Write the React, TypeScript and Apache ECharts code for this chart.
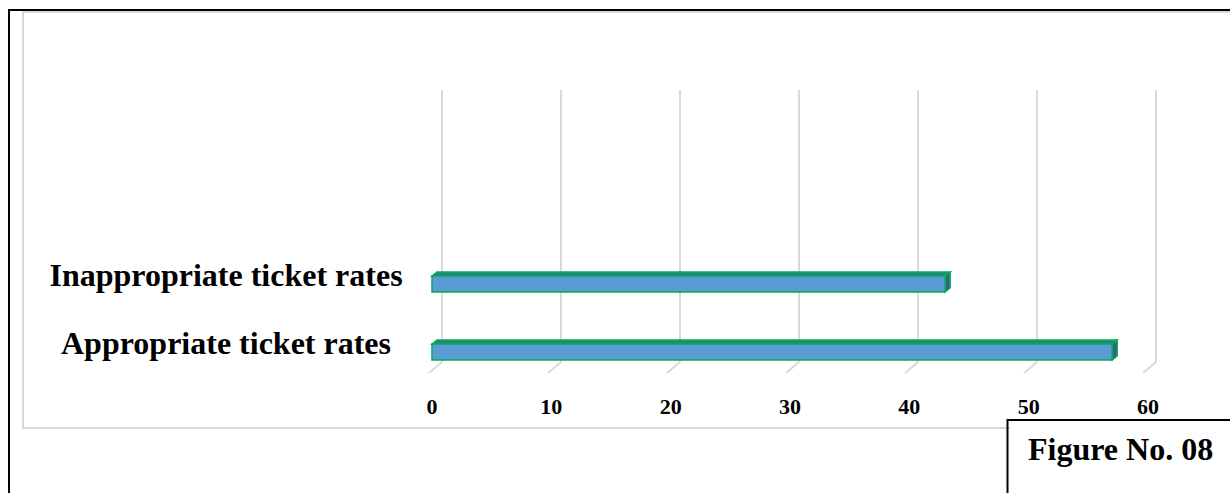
import React, { useEffect, useRef } from "react";
import * as echarts from "echarts";

const categories = ["Appropriate ticket rates", "Inappropriate ticket rates"];
const values = [57, 43];
const tickValues = [0, 10, 20, 30, 40, 50, 60];
const figureLabel = "Figure No. 08";

const FONT = '"Liberation Serif", "Times New Roman", serif';

export default function App() {
  const ref = useRef<HTMLDivElement>(null);
  useEffect(() => {
    if (!ref.current) return;
    const chart = echarts.init(ref.current, null, { renderer: "svg" });
    const option: any = {
      animation: false,
      backgroundColor: "#ffffff",
      grid: [
        { left: 442, right: 74, top: 90, bottom: 131 },
        { left: 432, right: 82, top: 241, bottom: 116 },
      ],
      xAxis: [
        {
          gridIndex: 0,
          type: "value",
          min: 0,
          max: 60,
          interval: 10,
          axisLine: { show: false },
          axisTick: { show: false },
          axisLabel: { show: false },
          splitLine: { show: true, lineStyle: { color: "#d9d9d9", width: 2 } },
        },
        {
          gridIndex: 1,
          type: "value",
          min: 0,
          max: 60,
          interval: 10,
          axisLine: { show: false },
          axisTick: { show: false },
          splitLine: { show: false },
          axisLabel: {
            color: "#000",
            fontFamily: FONT,
            fontWeight: "bold",
            fontSize: 22,
            margin: 18,
          },
        },
      ],
      yAxis: [
        {
          gridIndex: 0,
          type: "value",
          min: 0,
          max: 1,
          show: false,
        },
        {
          gridIndex: 1,
          type: "category",
          data: categories,
          axisLine: { show: false },
          axisTick: { show: false },
          splitLine: { show: false },
          axisLabel: {
            color: "#000",
            fontFamily: FONT,
            fontWeight: "bold",
            fontSize: 32,
            align: "center",
            margin: 206,
          },
        },
      ],
      series: [
        {
          type: "custom",
          xAxisIndex: 0,
          yAxisIndex: 0,
          clip: false,
          silent: true,
          data: tickValues.map((t) => [t, 0]),
          renderItem: (params: any, api: any) => {
            const p = api.coord([api.value(0), 0]);
            return {
              type: "line",
              shape: { x1: p[0], y1: p[1], x2: p[0] - 13, y2: p[1] + 11 },
              style: { stroke: "#d9d9d9", lineWidth: 2 },
            };
          },
        },
        {
          type: "custom",
          xAxisIndex: 1,
          yAxisIndex: 1,
          clip: false,
          data: values.map((v, i) => [v, i]),
          encode: { x: 0, y: 1 },
          renderItem: (params: any, api: any) => {
            const v = api.value(0);
            const c = api.value(1);
            const p0 = api.coord([0, c]);
            const p1 = api.coord([v, c]);
            const x0 = p0[0];
            const x1 = p1[0];
            const y = p0[1];
            const dx = 5;
            const dy = 4;
            const top = y + 1;
            const h = 16;
            const stroke = "#00b050";
            return {
              type: "group",
              children: [
                {
                  type: "polygon",
                  shape: {
                    points: [
                      [x0, top],
                      [x0 + dx, top - dy],
                      [x1 + dx, top - dy],
                      [x1, top],
                    ],
                  },
                  style: { fill: "#2f7f86", stroke, lineWidth: 1.5 },
                },
                {
                  type: "polygon",
                  shape: {
                    points: [
                      [x1, top],
                      [x1 + dx, top - dy],
                      [x1 + dx, top + h - dy],
                      [x1, top + h],
                    ],
                  },
                  style: { fill: "#35608c", stroke, lineWidth: 1.5 },
                },
                {
                  type: "rect",
                  shape: { x: x0, y: top, width: x1 - x0, height: h },
                  style: { fill: "#5b9bd5", stroke, lineWidth: 1.5 },
                },
              ],
            };
          },
        },
      ],
      graphic: [
        {
          type: "line",
          z: -10,
          silent: true,
          shape: { x1: 23, y1: 12, x2: 1230, y2: 12 },
          style: { stroke: "#d9d9d9", lineWidth: 2 },
        },
        {
          type: "line",
          z: -10,
          silent: true,
          shape: { x1: 23, y1: 11, x2: 23, y2: 429 },
          style: { stroke: "#d9d9d9", lineWidth: 2 },
        },
        {
          type: "line",
          z: -10,
          silent: true,
          shape: { x1: 22, y1: 428, x2: 1010, y2: 428 },
          style: { stroke: "#d9d9d9", lineWidth: 2 },
        },
        {
          type: "line",
          z: 10,
          silent: true,
          shape: { x1: 9, y1: 10, x2: 1230, y2: 10 },
          style: { stroke: "#000", lineWidth: 2 },
        },
        {
          type: "line",
          z: 10,
          silent: true,
          shape: { x1: 9, y1: 9, x2: 9, y2: 493 },
          style: { stroke: "#000", lineWidth: 2 },
        },
        {
          type: "line",
          z: 10,
          silent: true,
          shape: { x1: 1007.5, y1: 420, x2: 1230, y2: 420 },
          style: { stroke: "#000", lineWidth: 2 },
        },
        {
          type: "line",
          z: 10,
          silent: true,
          shape: { x1: 1007.5, y1: 419, x2: 1007.5, y2: 493 },
          style: { stroke: "#000", lineWidth: 2 },
        },
        {
          type: "text",
          z: 11,
          silent: true,
          x: 1028,
          y: 449,
          style: {
            text: figureLabel,
            fill: "#000",
            font: `bold 32px ${FONT}`,
            textAlign: "left",
            textVerticalAlign: "middle",
          },
        },
      ],
    };
    chart.setOption(option);
    return () => chart.dispose();
  }, []);
  return (
    <div
      ref={ref}
      style={{ position: "fixed", left: 0, top: 0, width: 1230, height: 493 }}
    />
  );
}
